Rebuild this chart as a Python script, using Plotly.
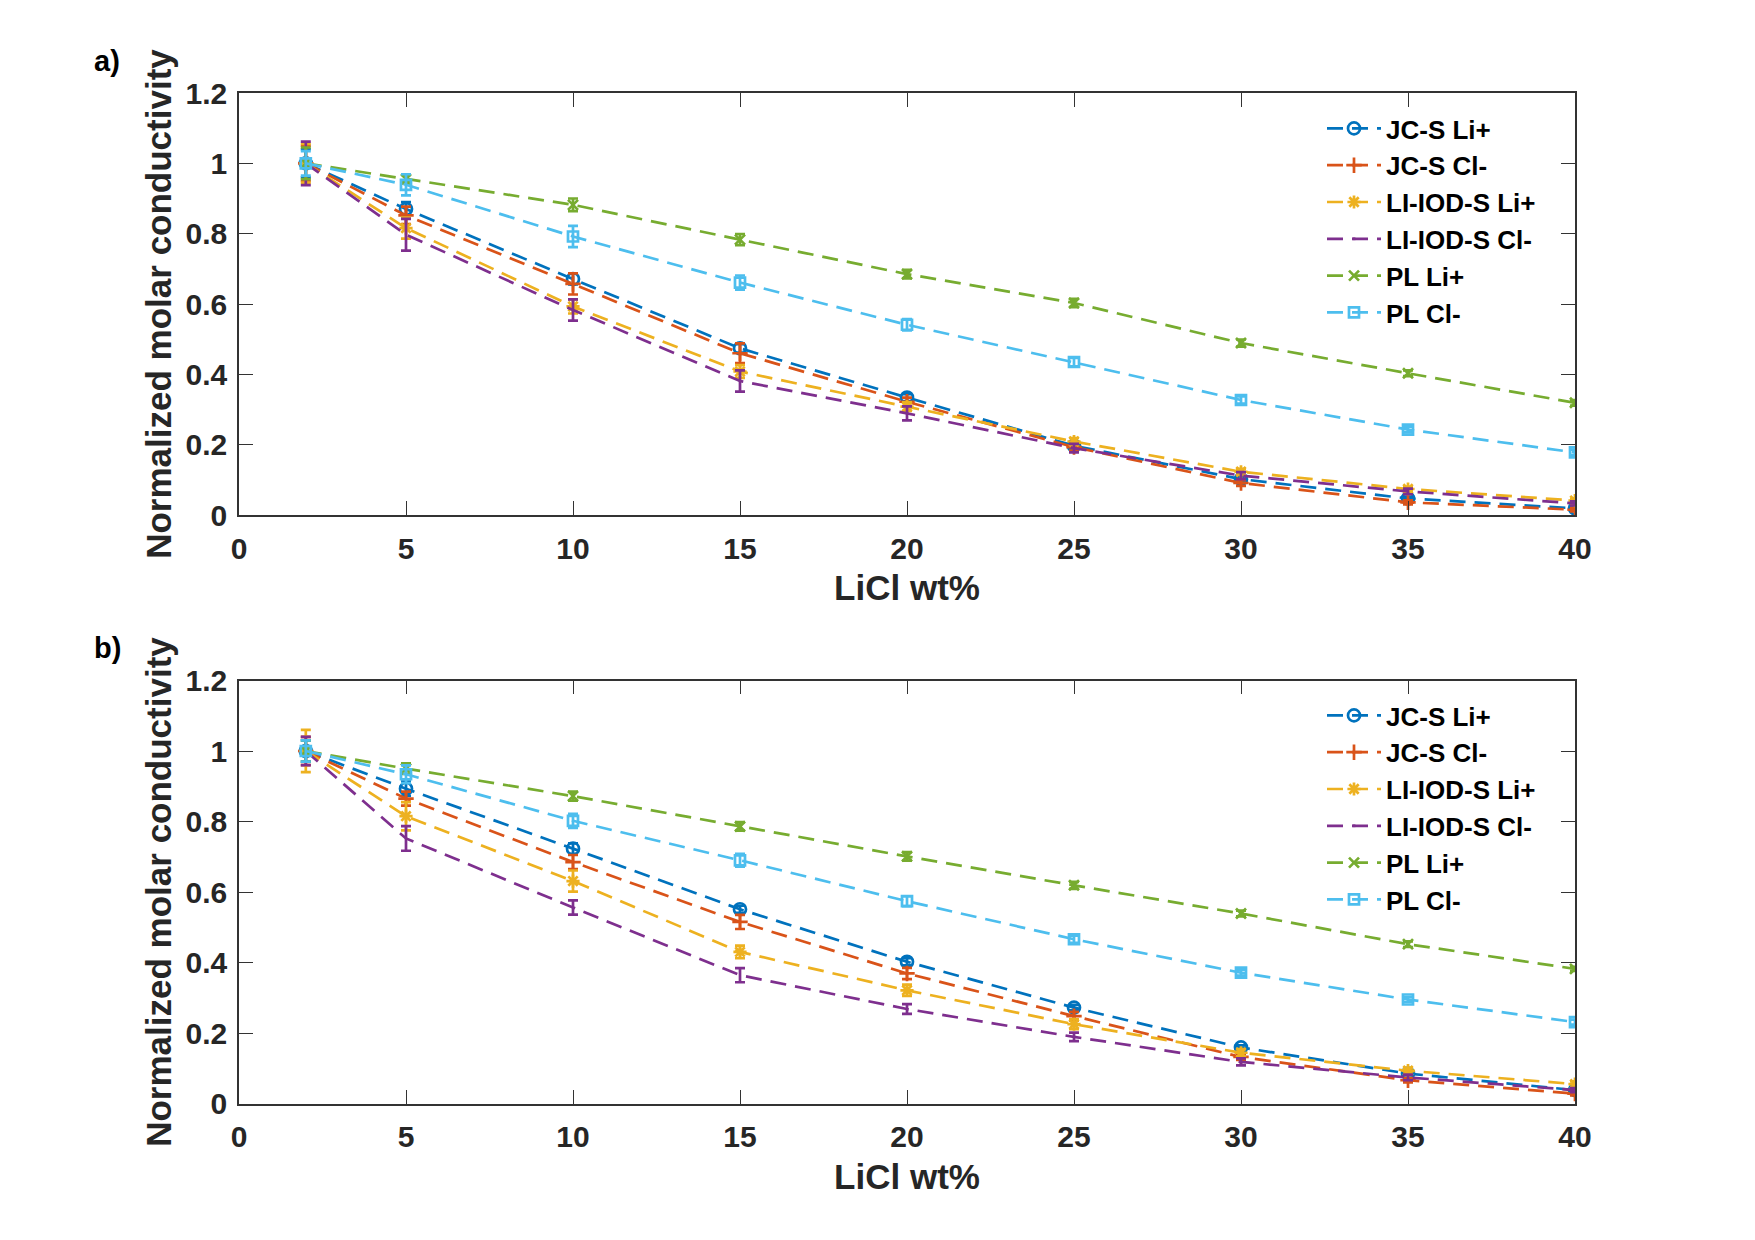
import plotly.graph_objects as go

x_wt = [2, 5, 10, 15, 20, 25, 30, 35, 40]
names = ["JC-S Li+", "JC-S Cl-", "LI-IOD-S Li+", "LI-IOD-S Cl-", "PL Li+", "PL Cl-"]

# Panel a values
a_jcs_li = [1.0, 0.870, 0.671, 0.474, 0.334, 0.197, 0.102, 0.047, 0.019]
a_jcs_cl = [1.0, 0.852, 0.657, 0.460, 0.322, 0.193, 0.091, 0.036, 0.015]
a_lio_li = [1.0, 0.816, 0.593, 0.408, 0.308, 0.209, 0.123, 0.074, 0.041]
a_lio_cl = [1.0, 0.797, 0.583, 0.381, 0.289, 0.190, 0.112, 0.067, 0.033]
a_pl_li = [1.0, 0.955, 0.882, 0.783, 0.685, 0.603, 0.489, 0.403, 0.319]
a_pl_cl = [1.0, 0.939, 0.792, 0.661, 0.541, 0.435, 0.327, 0.243, 0.178]

a_err_jcs_li = [0.040, 0.020, 0.015, 0.012, 0.010, 0.008, 0.006, 0.005, 0.004]
a_err_jcs_cl = [0.050, 0.025, 0.030, 0.028, 0.012, 0.010, 0.008, 0.006, 0.005]
a_err_lio_li = [0.055, 0.030, 0.020, 0.018, 0.012, 0.010, 0.008, 0.006, 0.005]
a_err_lio_cl = [0.062, 0.045, 0.030, 0.030, 0.020, 0.012, 0.010, 0.008, 0.006]
a_err_pl_li = [0.045, 0.012, 0.018, 0.016, 0.012, 0.012, 0.010, 0.008, 0.008]
a_err_pl_cl = [0.035, 0.030, 0.030, 0.020, 0.016, 0.012, 0.010, 0.008, 0.008]

# Panel b values
b_jcs_li = [1.0, 0.893, 0.723, 0.551, 0.402, 0.272, 0.159, 0.085, 0.038]
b_jcs_cl = [1.0, 0.865, 0.685, 0.515, 0.369, 0.248, 0.132, 0.066, 0.028]
b_lio_li = [1.0, 0.815, 0.631, 0.430, 0.321, 0.225, 0.144, 0.093, 0.055]
b_lio_cl = [1.0, 0.752, 0.556, 0.364, 0.268, 0.189, 0.118, 0.074, 0.038]
b_pl_li = [1.0, 0.950, 0.872, 0.786, 0.701, 0.619, 0.539, 0.452, 0.382]
b_pl_cl = [1.0, 0.934, 0.802, 0.690, 0.574, 0.466, 0.371, 0.295, 0.231]

b_err_jcs_li = [0.030, 0.020, 0.015, 0.010, 0.010, 0.008, 0.006, 0.005, 0.004]
b_err_jcs_cl = [0.040, 0.020, 0.020, 0.020, 0.016, 0.012, 0.008, 0.006, 0.005]
b_err_lio_li = [0.060, 0.040, 0.030, 0.018, 0.016, 0.014, 0.010, 0.008, 0.008]
b_err_lio_cl = [0.040, 0.035, 0.020, 0.020, 0.014, 0.012, 0.010, 0.008, 0.006]
b_err_pl_li = [0.030, 0.015, 0.013, 0.012, 0.012, 0.010, 0.008, 0.008, 0.006]
b_err_pl_cl = [0.030, 0.025, 0.020, 0.018, 0.014, 0.010, 0.008, 0.007, 0.007]

colors = ["#0072BD", "#D95319", "#EDB120", "#7E2F8E", "#77AC30", "#4DBEEE"]
symbols = ["circle-open", "cross-thin-open", "asterisk-open", "line-ew-open", "x-thin-open", "square-open"]
msizes = [12, 11, 11, 1, 10, 10]

panels = [
    ([a_jcs_li, a_jcs_cl, a_lio_li, a_lio_cl, a_pl_li, a_pl_cl],
     [a_err_jcs_li, a_err_jcs_cl, a_err_lio_li, a_err_lio_cl, a_err_pl_li, a_err_pl_cl],
     "x", "y", "legend"),
    ([b_jcs_li, b_jcs_cl, b_lio_li, b_lio_cl, b_pl_li, b_pl_cl],
     [b_err_jcs_li, b_err_jcs_cl, b_err_lio_li, b_err_lio_cl, b_err_pl_li, b_err_pl_cl],
     "x2", "y2", "legend2"),
]

FONT = "Liberation Sans, Arial, Helvetica, sans-serif"

fig = go.Figure()
for vals, errs, xa, ya, leg in panels:
    for i in range(6):
        fig.add_trace(go.Scatter(
            x=x_wt, y=vals[i], name=names[i], xaxis=xa, yaxis=ya, legend=leg,
            mode="lines+markers",
            line=dict(color=colors[i], width=2.7, dash="16px,9px"),
            marker=dict(symbol=symbols[i], size=msizes[i], color=colors[i],
                        line=dict(color=colors[i], width=2.7)),
            error_y=dict(type="data", array=errs[i], visible=True,
                         color=colors[i], thickness=2.7, width=5),
        ))

W, H = 1755, 1240
xdom = [239 / W, 1575 / W]
ya_dom = [1 - 515 / H, 1 - 93 / H]
yb_dom = [1 - 1103.5 / H, 1 - 680.5 / H]

axis_common = dict(
    showline=True, linecolor="#333333", linewidth=1.5, mirror="ticks",
    ticks="inside", ticklen=14, tickwidth=1.2, tickcolor="#333333",
    showgrid=False, zeroline=False,
    tickfont=dict(family=FONT, size=30, color="#262626", weight="bold"),
    automargin=False,
)
xt = dict(text="<b>LiCl wt%</b>", font=dict(family=FONT, size=35, color="#262626"), standoff=12)
yt = dict(text="<b>Normalized molar conductivity</b>", font=dict(family=FONT, size=35, color="#262626"), standoff=3)

leg_common = dict(xanchor="left", yanchor="top",
                  font=dict(family=FONT, size=26, color="black", weight="bold"),
                  bgcolor="rgba(0,0,0,0)", itemwidth=54, tracegroupgap=0)

fig.update_layout(
    width=W, height=H,
    margin=dict(l=0, r=0, t=0, b=0),
    paper_bgcolor="white", plot_bgcolor="white",
    xaxis=dict(domain=xdom, anchor="y", range=[0, 40], dtick=5, tick0=0, title=xt,
               ticklabelstandoff=6, **axis_common),
    yaxis=dict(domain=ya_dom, anchor="x", range=[0, 1.2], dtick=0.2, tick0=0, title=yt,
               ticklabelstandoff=4, **axis_common),
    xaxis2=dict(domain=xdom, anchor="y2", range=[0, 40], dtick=5, tick0=0, title=xt,
                ticklabelstandoff=6, **axis_common),
    yaxis2=dict(domain=yb_dom, anchor="x2", range=[0, 1.2], dtick=0.2, tick0=0, title=yt,
                ticklabelstandoff=4, **axis_common),
    legend=dict(x=1322 / W, y=1 - 105 / H, **leg_common),
    legend2=dict(x=1322 / W, y=1 - 692 / H, **leg_common),
    annotations=[
        dict(text="<b>a)</b>", x=92 / W, y=1 - 61 / H, xref="paper", yref="paper",
             xanchor="left", yanchor="middle", showarrow=False,
             font=dict(family=FONT, size=29, color="black")),
        dict(text="<b>b)</b>", x=92 / W, y=1 - 648 / H, xref="paper", yref="paper",
             xanchor="left", yanchor="middle", showarrow=False,
             font=dict(family=FONT, size=29, color="black")),
    ],
)

fig.write_html("out.html")
